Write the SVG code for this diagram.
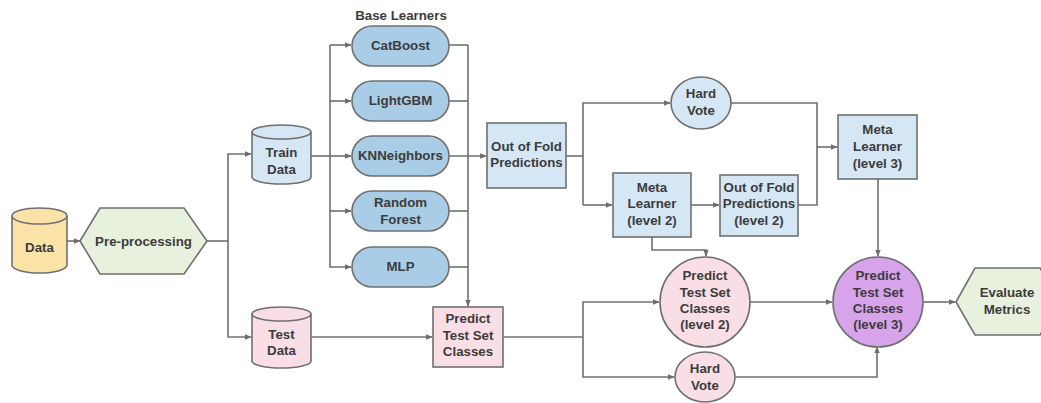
<svg xmlns="http://www.w3.org/2000/svg" width="1041" height="403" viewBox="0 0 1041 403">
<defs>
<marker id="arr" viewBox="0 0 10 10" refX="9" refY="5" markerWidth="7" markerHeight="7" markerUnits="userSpaceOnUse" orient="auto">
<path d="M0,1 L10,5 L0,9 z" fill="#6e6e6e"/>
</marker>
<style>
.s{stroke:#707070;stroke-width:1.6}
.c{fill:none;stroke:#707070;stroke-width:1.6}
.a{marker-end:url(#arr)}
text{font-family:"Liberation Sans",Arial,sans-serif;font-weight:bold;font-size:13.3px;fill:#3c3c3c;text-anchor:middle;dominant-baseline:central}
.blue{fill:#d5e6f4}
.pill{fill:#a9cde6}
.pink{fill:#f9dfe5}
.yel{fill:#fbe3a8}
.grn{fill:#e8f0de}
.pur{fill:#d7a3ea}
</style>
</defs>
<rect width="1041" height="403" fill="#ffffff"/>
<g id="connectors">
<path class="c a" d="M67,241 H80"/>
<path class="c" d="M207,241 H228"/>
<path class="c a" d="M228,241 V154 H251"/>
<path class="c a" d="M228,241 V337 H251"/>
<path class="c" d="M311,156 H330"/>
<path class="c a" d="M330,45 V267 H351"/>
<path class="c a" d="M330,45 H351"/>
<path class="c a" d="M330,101 H351"/>
<path class="c a" d="M330,156 H351"/>
<path class="c a" d="M330,211 H351"/>
<path class="c" d="M449,45 H468"/>
<path class="c" d="M449,101 H468"/>
<path class="c" d="M449,211 H468"/>
<path class="c" d="M449,267 H468"/>
<path class="c a" d="M449,156 H486"/>
<path class="c a" d="M468,45 V306"/>
<path class="c a" d="M311,337 H432"/>
<path class="c" d="M503,337 H583"/>
<path class="c a" d="M583,337 V302 H659"/>
<path class="c a" d="M583,337 V377 H674"/>
<path class="c" d="M566,156 H583"/>
<path class="c a" d="M583,205 V103 H670"/>
<path class="c a" d="M583,205 H612"/>
<path class="c a" d="M691,205 H719"/>
<path class="c" d="M731,103 H817 V205 H798"/>
<path class="c a" d="M817,147 H837"/>
<path class="c a" d="M652,237 V250 H706 V256"/>
<path class="c a" d="M750,302 H832"/>
<path class="c a" d="M735,377 H877 V347"/>
<path class="c a" d="M878,179 V256"/>
<path class="c a" d="M923,302 H955"/>
</g>
<g id="data">
<path class="s yel" d="M12,216 V265 A27.5,8 0 0 0 67,265 V216"/>
<ellipse class="s yel" cx="39.5" cy="216" rx="27.5" ry="8"/>
<text x="39.5" y="247">Data</text>
</g>
<g id="preprocessing">
<polygon class="s grn" points="80,241 100,208 184,208 207,241 184,274 100,274"/>
<text x="143.5" y="241">Pre-processing</text>
</g>
<g id="train-data">
<path class="s blue" d="M252,132 V177 A29.5,7 0 0 0 311,177 V132"/>
<ellipse class="s blue" cx="281.5" cy="132" rx="29.5" ry="7"/>
<text x="281.5" y="152">Train</text>
<text x="281.5" y="169">Data</text>
</g>
<g id="test-data">
<path class="s pink" d="M252,314 V361 A29.5,7 0 0 0 311,361 V314"/>
<ellipse class="s pink" cx="281.5" cy="314" rx="29.5" ry="7"/>
<text x="281.5" y="334">Test</text>
<text x="281.5" y="350">Data</text>
</g>
<g id="base-learners-label">
<text x="401" y="15">Base Learners</text>
</g>
<g id="catboost">
<rect class="s pill" x="352" y="26" width="97" height="40" rx="20"/>
<text x="400.5" y="45">CatBoost</text>
</g>
<g id="lightgbm">
<rect class="s pill" x="352" y="81" width="97" height="40" rx="20"/>
<text x="400.5" y="100">LightGBM</text>
</g>
<g id="knneighbors">
<rect class="s pill" x="352" y="136" width="97" height="40" rx="20"/>
<text x="400.5" y="155">KNNeighbors</text>
</g>
<g id="random-forest">
<rect class="s pill" x="352" y="191" width="97" height="40" rx="20"/>
<text x="400.5" y="202">Random</text>
<text x="400.5" y="219">Forest</text>
</g>
<g id="mlp">
<rect class="s pill" x="352" y="247" width="97" height="40" rx="20"/>
<text x="400.5" y="266">MLP</text>
</g>
<g id="oof">
<rect class="s blue" x="487" y="123" width="79" height="65"/>
<text x="526.5" y="146">Out of Fold</text>
<text x="526.5" y="162">Predictions</text>
</g>
<g id="predict-test">
<rect class="s pink" x="433" y="307" width="70" height="60"/>
<text x="468" y="318">Predict</text>
<text x="468" y="335">Test Set</text>
<text x="468" y="351">Classes</text>
</g>
<g id="hard-vote-top">
<ellipse class="s blue" cx="701" cy="103" rx="30" ry="26"/>
<text x="701" y="93">Hard</text>
<text x="701" y="110">Vote</text>
</g>
<g id="meta-learner-2">
<rect class="s blue" x="613" y="173" width="78" height="64"/>
<text x="652" y="187">Meta</text>
<text x="652" y="203">Learner</text>
<text x="652" y="220">(level 2)</text>
</g>
<g id="oof-2">
<rect class="s blue" x="720" y="175" width="78" height="61"/>
<text x="759" y="187">Out of Fold</text>
<text x="759" y="203">Predictions</text>
<text x="759" y="220">(level 2)</text>
</g>
<g id="meta-learner-3">
<rect class="s blue" x="838" y="115" width="79" height="64"/>
<text x="877.5" y="129">Meta</text>
<text x="877.5" y="146">Learner</text>
<text x="877.5" y="163">(level 3)</text>
</g>
<g id="predict-level2">
<ellipse class="s pink" cx="705" cy="302" rx="45" ry="45"/>
<text x="705" y="275">Predict</text>
<text x="705" y="292">Test Set</text>
<text x="705" y="308">Classes</text>
<text x="705" y="324">(level 2)</text>
</g>
<g id="hard-vote-bottom">
<ellipse class="s pink" cx="705" cy="377" rx="30" ry="25"/>
<text x="705" y="368">Hard</text>
<text x="705" y="385">Vote</text>
</g>
<g id="predict-level3">
<ellipse class="s pur" cx="878" cy="302" rx="45" ry="45"/>
<text x="878" y="275">Predict</text>
<text x="878" y="292">Test Set</text>
<text x="878" y="308">Classes</text>
<text x="878" y="324">(level 3)</text>
</g>
<g id="evaluate-metrics">
<polygon class="s grn" points="956,302 975,268 1040,268 1060,302 1040,335 975,335"/>
<text x="1007" y="292">Evaluate</text>
<text x="1007" y="309">Metrics</text>
</g>
</svg>
